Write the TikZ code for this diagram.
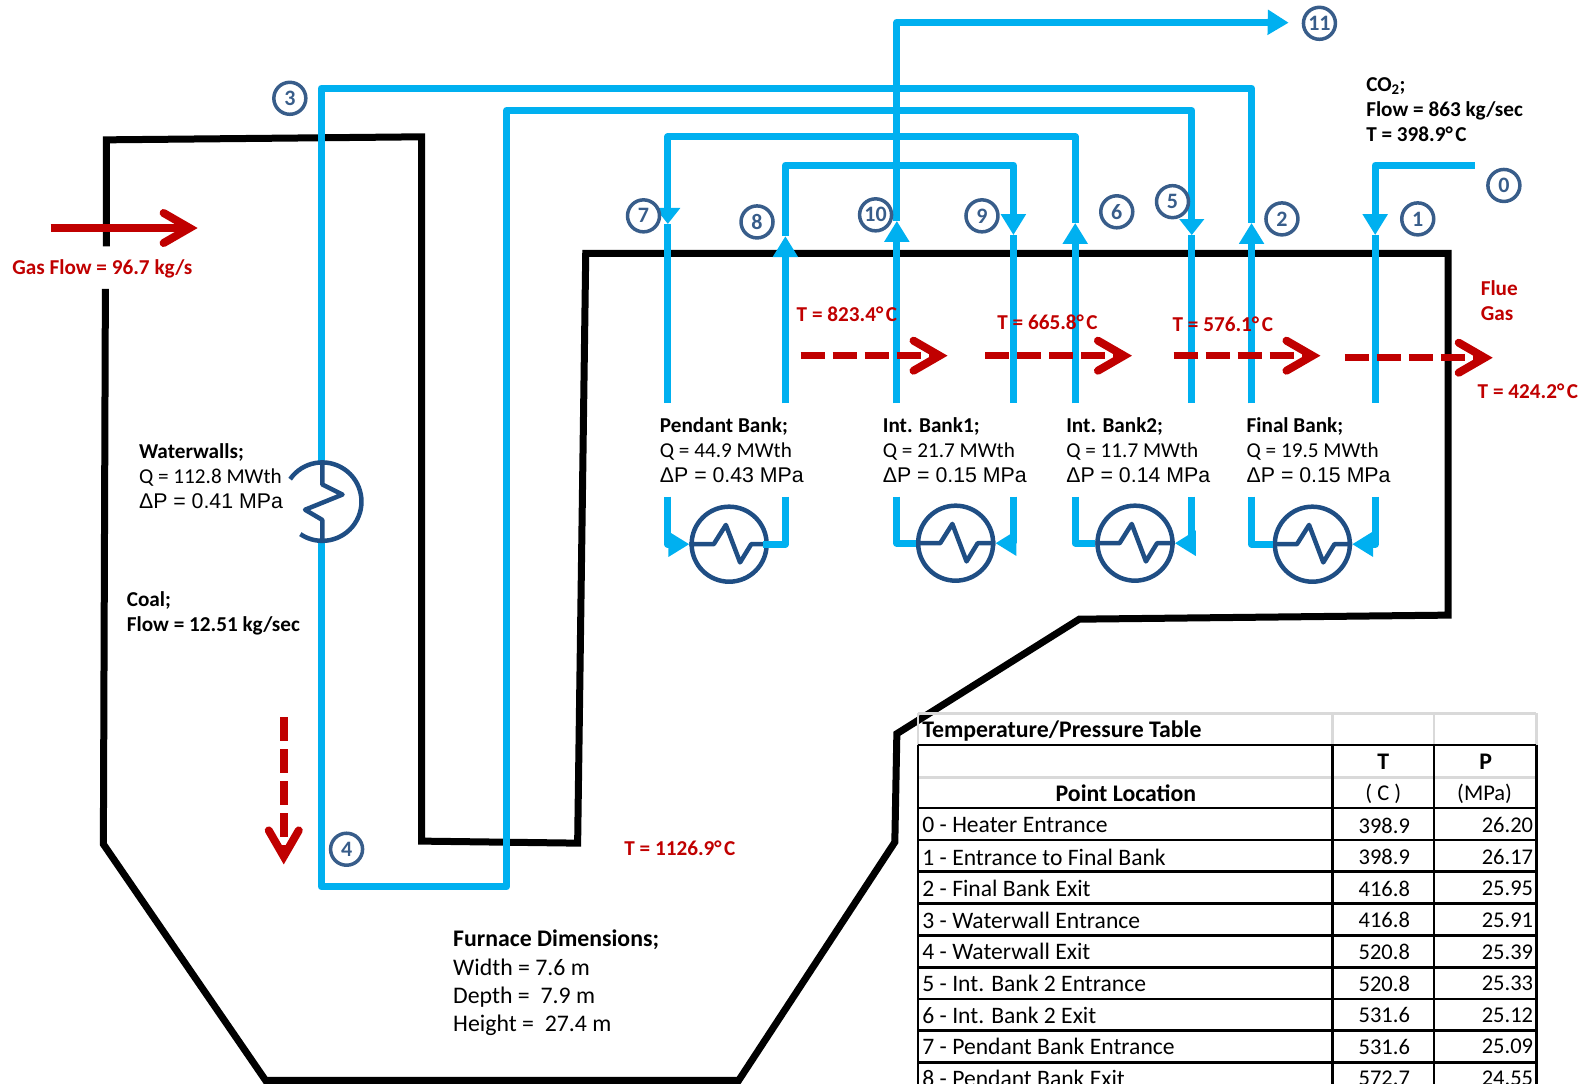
\documentclass[tikz,border=0pt]{standalone}
\usepackage{fontspec}
\setmainfont{Carlito}
\newfontfamily\arialfont{Liberation Sans}
\usetikzlibrary{arrows.meta}
\definecolor{pipeblue}{HTML}{00B0F0}
\definecolor{hxblue}{HTML}{1F4E84}
\definecolor{numblue}{HTML}{385D8A}
\definecolor{flowred}{HTML}{C00000}
\newcommand{\degC}{°\kern2.5pt C}
\begin{document}
\begin{tikzpicture}[
    x=1.01339pt,y=-1.01339pt,
    wall/.style={draw=black,line width=7pt,miter limit=10},
    pipe/.style={draw=pipeblue,line width=7pt,line join=round},
    pipetip/.style={pipe,-{Triangle[length=21pt,width=24pt]}},
    pipedown/.style={pipe,-{Triangle[length=16pt,width=24pt]}},
    hx/.style={circle,draw=hxblue,line width=4.5pt,minimum size=75pt,inner sep=0pt},
    hxline/.style={draw=hxblue,line width=4.5pt,line join=round},
    num/.style={circle,draw=numblue,line width=3.5pt,minimum size=32pt,inner sep=0pt,
      text=numblue,font=\fontsize{22}{24}\selectfont\bfseries},
    gasflow/.style={draw=flowred,line width=7.5pt,
      -{Straight Barb[length=26pt,width=30pt,line width=8pt,line cap=round,line join=miter]}},
    gasdash/.style={gasflow,dash pattern=on 24pt off 8pt},
    lbl/.style={anchor=west,inner sep=0pt,align=left,font=\fontsize{21.2}{25}\selectfont},
    boldlbl/.style={lbl,font=\fontsize{21.2}{25}\selectfont\bfseries},
    redlbl/.style={boldlbl,text=flowred},
    cell/.style={inner sep=0pt,font=\fontsize{23.6}{26}\selectfont},
    numcell/.style={inner sep=0pt,font=\fontsize{22.5}{26}\selectfont},
    headcell/.style={inner sep=0pt,font=\fontsize{23.8}{26}\selectfont\bfseries},
    grid/.style={draw=black,line width=2.5pt},
    gridlight/.style={draw=black!15,line width=2.5pt},
  ]
    \useasboundingbox (0,0) rectangle (1568,1069);
    % furnace wall, with the gap where the gas comes in
    \draw[wall] (105,243) -- (105,138) -- (416,135) -- (416,830) -- (570,832) -- (578,250)
      -- (1429,250) -- (1429,607) -- (1065,611) -- (885,724) -- (883,831) -- (729,1066)
      -- (262,1066) -- (102,833) -- (104,285);
    % exchanger symbols
    \foreach \name/\x/\y in {hxPend/719.5/537,hxOne/943/536,hxTwo/1120/536,hxFinal/1295/537} {
      \node[hx] (\name) at (\x,\y) {};
      \draw[hxline] (\name.west) -- ++(24,0) -- ++(12,-19) -- ++(14,37) -- ++(11,-18) -- (\name.east);
    }
    % steam path, one run per bank
    \draw[pipetip] (1455,163) -- (1357,163) -- (1357,232);
    \draw[pipe] (1357,232) -- (1357,398);
    \draw[pipetip] (1357,490) |- (hxFinal.east);
    \draw[pipe] (1235,490) |- (hxFinal.west);
    \draw[pipetip] (1235,398) -- (1235,220);
    \draw[pipe] (1235,220) -- (1235,87) -- (317,87) -- (317,875) -- (500,875) -- (500,109)
      -- (1176,109) -- (1176,215);
    \draw[pipedown] (1176,200) -- (1176,232);
    \draw[pipe] (1176,232) -- (1176,398);
    \draw[pipetip] (1176,490) |- (hxTwo.east);
    \draw[pipe] (1061,490) |- (hxTwo.west);
    \draw[pipetip] (1061,398) -- (1061,220);
    \draw[pipe] (1061,220) -- (1061,135) -- (659,135) -- (659,210);
    \draw[pipedown] (659,195) -- (659,221);
    \draw[pipe] (659,221) -- (659,398);
    \draw[pipetip] (659,490) |- (hxPend.west);
    \draw[pipe] (775,490) |- ([xshift=-6pt]hxPend.east);
    \draw[pipetip] (775,398) -- (775,233);
    \draw[pipe] (775,233) -- (775,163) -- (1000,163) -- (1000,215);
    \draw[pipetip] (1000,205) -- (1000,232);
    \draw[pipe] (1000,232) -- (1000,398);
    \draw[pipetip] (1000,490) |- (hxOne.east);
    \draw[pipe] (885,490) |- (hxOne.west);
    \draw[pipetip] (885,398) -- (885,218);
    \draw[pipe] (885,218) -- (885,22) -- (1255,22);
    % waterwall exchanger sits on the long downcomer
    \coordinate (wwC) at (318,495);
    \fill[white] (wwC) circle[radius=37];
    \draw[hxline] (wwC) ++(124:38.7) arc[start angle=124,end angle=-145,radius=38.7];
    \draw[hxline] (318,457) -- (318,478) -- (338,488) -- (301,503) -- (318,513) -- (318,533);
    % gas side
    \draw[gasflow] (50,225) -- (195,225);
    \draw[gasdash] (280,708) -- (280,853);
    \draw[gasdash] (790,351) -- (935,351);
    \draw[gasdash] (972,351) -- (1117,351);
    \draw[gasdash] (1158,351) -- (1303,351);
    \draw[gasdash] (1327,353) -- (1473,353);
    % point numbers
    \foreach \n/\x/\y in {3/286/97,0/1484/183,1/1399/216,2/1265/216,5/1157/199,6/1102/209,
        9/969/213,10/864/212,8/747/219,7/635/213,4/342/838} {
      \node[num] (pt\n) at (\x,\y) {\n};
    }
    \node[num] (pt11) at (1302,23) {11};
    \draw[pipetip,shorten >=13pt] (1250,22) -- (pt11);
    % labels
    \node[redlbl] (gasLbl) at (12,265) {Gas Flow = 96.7 kg/s};
    \node[redlbl] (tPend) at (786,310) {T = 823.4\degC};
    \node[redlbl] (tOne) at (984,318) {T = 665.8\degC};
    \node[redlbl] (tTwo) at (1157,320) {T = 576.1\degC};
    \node[redlbl] (flueLbl) at (1461,297) {Flue\\Gas};
    \node[redlbl] (tFlue) at (1458,386) {T = 424.2\degC};
    \node[redlbl] (tFurn) at (616,837) {T = 1126.9\degC};
    \node[boldlbl] (co2Lbl) at (1348,108) {CO\textsubscript{2};\\Flow = 863 kg/sec\\T = 398.9\degC};
    \foreach \name/\x/\y/\ttl/\qval/\dpval in {
        pendLbl/651/444/Pendant Bank;/44.9/0.43,
        oneLbl/871/444/Int. Bank1;/21.7/0.15,
        twoLbl/1052/444/Int. Bank2;/11.7/0.14,
        finalLbl/1230/444/Final Bank;/19.5/0.15,
        wwLbl/137/470/Waterwalls;/112.8/0.41} {
      \node[lbl] (\name) at (\x,\y) {\textbf{\ttl}\\Q = \qval{} MWth\\{\fontsize{21.3}{25}\arialfont ΔP = \dpval{} MPa}};
    }
    \node[boldlbl] (coalLbl) at (125,605) {Coal;\\Flow = 12.51 kg/sec};
    \node[lbl,font=\fontsize{23.8}{28.4}\selectfont] (furnLbl) at (447,970) {\textbf{Furnace Dimensions;}\\Width = 7.6 m\\Depth =\ \ 7.9 m\\Height =\ \ 27.4 m};
    % table, runs off the bottom of the page
    \begin{scope}
      \clip (0,0) rectangle (1568,1069);
      \draw[gridlight] (906,704) -- (1516,704);
      \foreach \x in {906,1315,1415,1516} \draw[gridlight] (\x,704) -- (\x,735);
      \draw[gridlight] (906,767) -- (1516,767);
      \node[headcell,anchor=west] (tabTitle) at (910,721) {Temperature/Pressure Table};
      \node[headcell] (colT) at (1365,752) {T};
      \node[headcell] (colP) at (1466,752) {P};
      \node[headcell] (colLoc) at (1111,783) {Point Location};
      \node[numcell] (unitT) at (1365,783) {( C )};
      \node[numcell] (unitP) at (1465,783) {(MPa)};
      \foreach \y in {735,797.5,829,860,891.5,923,954.5,986,1017,1048.5} \draw[grid] (906,\y) -- (1516,\y);
      \foreach \x in {906,1315,1415,1516} \draw[grid] (\x,735) -- (\x,1075);
      \foreach \txt/\tval/\pval [count=\i from 0] in {
          0 - Heater Entrance/398.9/26.20,
          1 - Entrance to Final Bank/398.9/26.17,
          2 - Final Bank Exit/416.8/25.95,
          3 - Waterwall Entrance/416.8/25.91,
          4 - Waterwall Exit/520.8/25.39,
          5 - Int. Bank 2 Entrance/520.8/25.33,
          6 - Int. Bank 2 Exit/531.6/25.12,
          7 - Pendant Bank Entrance/531.6/25.09,
          8 - Pendant Bank Exit/572.7/24.55} {
        \node[cell,anchor=west] (rowName\i) at (910,814.5+31.2*\i) {\txt};
        \node[numcell] (rowT\i) at (1366,814.5+31.2*\i) {\tval};
        \node[numcell,anchor=east] (rowP\i) at (1513,814.5+31.2*\i) {\pval};
      }
    \end{scope}
  \end{tikzpicture}
\end{document}
